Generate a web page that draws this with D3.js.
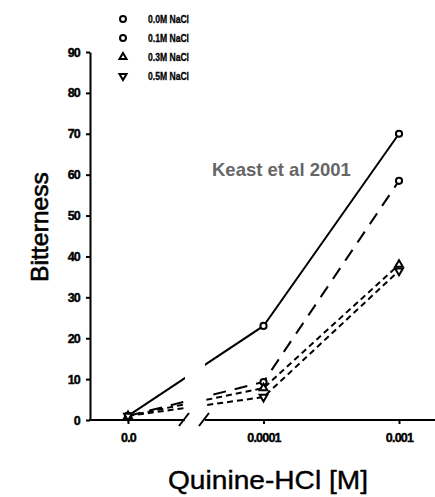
<!DOCTYPE html>
<html>
<head>
<meta charset="utf-8">
<script src="https://cdn.jsdelivr.net/npm/d3@7"></script>
<style>
  body { margin: 0; background: #fff; }
  svg { display: block; font-family: "Liberation Sans", Arial, sans-serif; }
</style>
</head>
<body>
<div id="chart"></div>
<script>
// quinine concentrations (categorical, broken axis after 0.0)
var doses = ['0.0', '0.0001', '0.001'];
var seriesNames = ['0.0M NaCl', '0.1M NaCl', '0.3M NaCl', '0.5M NaCl'];
var nacl00 = [1, 23, 70];
var nacl01 = [1, 9.3, 58.5];
var nacl03 = [1, 7.8, 38];
var nacl05 = [1, 5.6, 36.5];
var yTicks = [0, 10, 20, 30, 40, 50, 60, 70, 80, 90];

var bitterChart = {

  config: {
    width: 435,
    height: 497,
    left: 90,
    bottom: 420,
    top: 52,
    breakFrom: 185,
    breakTo: 205
  },

  styles: [
    { dash: null, symbol: d3.symbolCircle },
    { dash: '13,9', symbol: d3.symbolCircle },
    { dash: '6,4', symbol: d3.symbolTriangle },
    { dash: '6,4', symbol: d3.symbolTriangle, rotate: 180 }
  ],

  display: function(el) {
    this.el = el;
    this.series = [nacl00, nacl01, nacl03, nacl05];

    this.createSvg();
    this.createScales();
    this.createAxes();
    this.createLines();
    this.createLegend();
    this.createLabels();
  },

  createSvg: function() {
    this.svg = d3.select(this.el).append('svg')
                 .attr('width', this.config.width)
                 .attr('height', this.config.height);
  },

  createScales: function() {
    this.x = d3.scalePoint().domain(doses).range([128, 399]);
    this.y = d3.scaleLinear().domain([0, 90]).range([this.config.bottom, this.config.top]);
  },

  /* ---
   * tick labels in the scan are heavy, so they get a thin stroke too
   */
  styleTicks: function(sel) {
    sel.selectAll('.tick line').attr('stroke-width', 2);
    sel.selectAll('.tick text')
       .attr('font-size', 12.5).attr('font-weight', 'bold')
       .attr('letter-spacing', -0.8)
       .attr('stroke', '#000').attr('stroke-width', 0.4)
       .attr('font-family', '"Liberation Sans", Arial, sans-serif');
  },

  createAxes: function() {
    var c = this.config;

    var yAxis = this.svg.append('g')
        .attr('transform', 'translate(' + c.left + ',0)')
        .call(d3.axisLeft(this.y).tickValues(yTicks).tickSize(4).tickSizeOuter(0).tickPadding(6));
    yAxis.select('.domain').attr('stroke-width', 2);
    this.styleTicks(yAxis);

    var xAxis = this.svg.append('g')
        .attr('transform', 'translate(0,' + c.bottom + ')')
        .call(d3.axisBottom(this.x).tickSize(4).tickPadding(9));
    xAxis.select('.domain').remove();
    this.styleTicks(xAxis);

    // broken x axis line
    var segs = [[c.left - 1, c.breakFrom], [c.breakTo, c.width]];
    xAxis.selectAll('line.seg')
         .data(segs).enter().append('line')
         .attr('class', 'seg')
         .attr('x1', function(d) { return d[0]; })
         .attr('x2', function(d) { return d[1]; })
         .attr('stroke', '#000').attr('stroke-width', 2);

    // break marks
    xAxis.selectAll('line.brk')
         .data([c.breakFrom, c.breakTo]).enter().append('line')
         .attr('class', 'brk')
         .attr('x1', function(d) { return d - 6; })
         .attr('y1', 6)
         .attr('x2', function(d) { return d + 4; })
         .attr('y2', -7)
         .attr('stroke', '#000').attr('stroke-width', 2);
  },

  createLines: function() {
    var c = this.config, x = this.x, y = this.y;

    var clip = this.svg.append('clipPath').attr('id', 'brk-clip');
    clip.append('rect').attr('x', 0).attr('y', 0).attr('width', c.breakFrom).attr('height', c.height);
    clip.append('rect').attr('x', c.breakTo).attr('y', 0).attr('width', c.width - c.breakTo).attr('height', c.height);

    var line = d3.line()
                 .x(function(d, i) { return x(doses[i]); })
                 .y(function(d) { return y(d); });

    this.svg.append('g')
            .attr('clip-path', 'url(#brk-clip)')
            .selectAll('path')
            .data(this.series)
            .enter()
            .append('path')
            .attr('d', line)
            .attr('fill', 'none')
            .attr('stroke', '#000')
            .attr('stroke-width', 2)
            .attr('stroke-dasharray', (d, i) => this.styles[i].dash);

    this.series.forEach((vals, s) => {
      var st = this.styles[s];
      this.svg.append('g').selectAll('path')
              .data(vals).enter().append('path')
              .attr('d', d3.symbol().type(st.symbol).size(s < 2 ? 30 : 26))
              .attr('transform', function(d, i) {
                return 'translate(' + x(doses[i]) + ',' + y(d) + ')' + (st.rotate ? ' rotate(' + st.rotate + ')' : '');
              })
              .attr('fill', '#fff')
              .attr('stroke', '#000')
              .attr('stroke-width', 2);
    });
  },

  createLegend: function() {
    var rows = [19, 38, 57, 76];
    var g = this.svg.append('g');

    seriesNames.forEach((name, i) => {
      var st = this.styles[i];
      g.append('path')
       .attr('d', d3.symbol().type(st.symbol).size(i < 2 ? 28 : 22))
       .attr('transform', 'translate(123,' + rows[i] + ')' + (st.rotate ? ' rotate(' + st.rotate + ')' : ''))
       .attr('fill', '#fff').attr('stroke', '#000').attr('stroke-width', 2);
      g.append('text')
       .attr('x', 148).attr('y', rows[i] + 4)
       .attr('font-size', 10.5).attr('font-weight', 'bold')
       .attr('stroke', '#000').attr('stroke-width', 0.3)
       .attr('textLength', 41).attr('lengthAdjust', 'spacingAndGlyphs')
       .text(name);
    });
  },

  createLabels: function() {
    this.svg.append('text')
            .attr('x', 212).attr('y', 176)
            .attr('font-size', 18.5).attr('font-weight', 'bold')
            .attr('fill', '#666')
            .text('Keast et al 2001');

    this.svg.append('text')
            .attr('transform', 'translate(48,227) rotate(-90)')
            .attr('text-anchor', 'middle')
            .attr('font-size', 24)
            .attr('stroke', '#000').attr('stroke-width', 0.6)
            .attr('textLength', 110).attr('lengthAdjust', 'spacingAndGlyphs')
            .text('Bitterness');

    this.svg.append('text')
            .attr('x', 268).attr('y', 489)
            .attr('text-anchor', 'middle')
            .attr('font-size', 26)
            .attr('stroke', '#000').attr('stroke-width', 0.4)
            .attr('textLength', 200).attr('lengthAdjust', 'spacingAndGlyphs')
            .text('Quinine-HCl [M]');
  }

};

bitterChart.display('#chart');
</script>
</body>
</html>
